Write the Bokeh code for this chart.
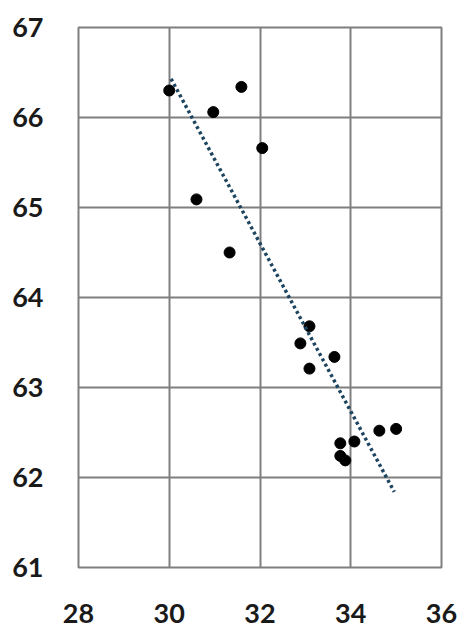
from bokeh.plotting import figure
from bokeh.models import Range1d, FixedTicker
from bokeh.embed import file_html
from bokeh.resources import INLINE

# data
x_vals = [30.0, 31.59, 30.97, 32.05, 30.6, 31.33, 33.09, 32.89, 33.64, 33.09,
          34.63, 35.0, 33.77, 34.08, 33.77, 33.88]
y_vals = [66.3, 66.34, 66.06, 65.66, 65.09, 64.5, 63.68, 63.49, 63.34, 63.21,
          62.52, 62.54, 62.38, 62.4, 62.24, 62.19]
trend_x = [30.04, 34.96]
trend_y = [66.43, 61.84]
x_ticks = [28, 30, 32, 34, 36]
y_ticks = [61, 62, 63, 64, 65, 66, 67]

p = figure(width=461, height=628, output_backend="svg", toolbar_location=None,
           x_range=Range1d(28, 36), y_range=Range1d(61, 67),
           min_border_left=78, min_border_right=20, min_border_top=27,
           min_border_bottom=61)

p.background_fill_color = "white"
p.border_fill_color = "white"
p.outline_line_color = "#7f7f7f"
p.outline_line_width = 2

for ax in (p.xaxis, p.yaxis):
    ax.axis_line_color = None
    ax.major_tick_line_color = None
    ax.minor_tick_line_color = None
    ax.major_label_text_font = "Lato"
    ax.major_label_text_font_size = "27px"
    ax.major_label_text_color = "#1a1a1a"
    ax.major_label_text_font_style = "bold"

p.xaxis.ticker = FixedTicker(ticks=x_ticks)
p.yaxis.ticker = FixedTicker(ticks=y_ticks)
p.xaxis.major_label_standoff = 30
p.yaxis.major_label_standoff = 29

p.xgrid.ticker = FixedTicker(ticks=x_ticks)
p.ygrid.ticker = FixedTicker(ticks=y_ticks)
for g in (p.xgrid, p.ygrid):
    g.grid_line_color = "#7f7f7f"
    g.grid_line_width = 2
    g.grid_line_alpha = 1

p.scatter(x_vals, y_vals, size=11, color="black")
p.line(trend_x, trend_y, line_color="#1d4560", line_width=3.5, line_dash="3 3")

open("out.html", "w").write(file_html(p, INLINE))
